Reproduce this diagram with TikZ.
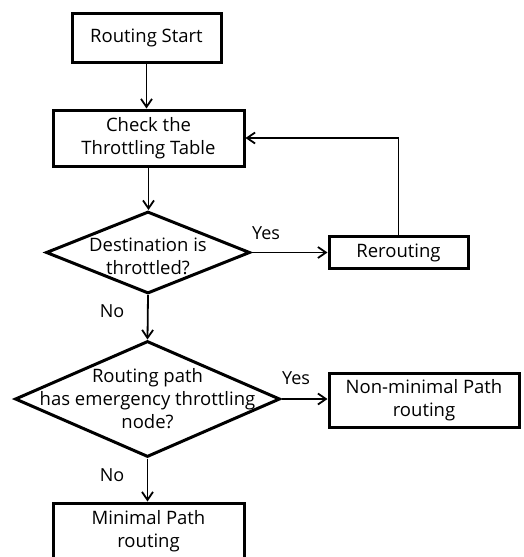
\documentclass[tikz,border=0pt]{standalone}
\usepackage{fontspec}
\setmainfont{Open Sans}
\usetikzlibrary{shapes.geometric,arrows.meta}
\tikzset{
  box/.style={draw=black, line width=3pt, rectangle, inner sep=0pt, align=center},
  dia/.style={draw=black, line width=3pt, diamond, inner sep=0pt},
  txt/.style={align=center, inner sep=0pt, font=\fontsize{18.5}{23}\selectfont},
  lbl/.style={inner sep=0pt, font=\fontsize{18}{20}\selectfont},
  arr/.style={line width=1.8pt, -{Straight Barb[length=8pt,width=11pt,line width=1.8pt]}},
  ln/.style={line width=1.8pt}
}
\begin{document}
\begin{tikzpicture}[x=1pt,y=-1pt]
\useasboundingbox (0,0) rectangle (524,557);
\node[box, minimum width=149pt, minimum height=49pt] (start) at (146.5,37.5) {};
\node[txt] at (start) {Routing Start};
\node[box, minimum width=191pt, minimum height=56pt] (chk) at (148.5,138) {};
\node[txt] at (chk) {Check the\\Throttling Table};
\node[dia, minimum width=204pt, minimum height=82pt] (d1) at (148,252.5) {};
\node[txt] at (148,256) {Destination is\\throttled?};
\node[box, minimum width=139pt, minimum height=32pt] (rr) at (398.5,252.5) {};
\node[txt] at (rr) {Rerouting};
\node[dia, minimum width=265pt, minimum height=116pt] (d2) at (147.5,399) {};
\node[txt] at (147.5,399) {Routing path\\has emergency throttling\\node?};
\node[box, minimum width=190pt, minimum height=54pt] (nm) at (424,400) {};
\node[txt] at (nm) {Non-minimal Path\\routing};
\node[box, minimum width=191pt, minimum height=56pt] (mp) at (148.5,531) {};
\node[txt] at (mp) {Minimal Path\\routing};
\node[lbl] (y1) at (266,233) {Yes};
\node[lbl] (n1) at (112,311) {No};
\node[lbl] (y2) at (296,378) {Yes};
\node[lbl] (n2) at (112,475) {No};
\draw[arr] (start) -- (start.south |- chk.north);
\draw[arr] (chk) -- (chk.south |- d1.north);
\draw[arr] (d1.east) -- (d1.east -| rr.west);
\draw[arr] (rr.north) |- (chk.east);
\draw[arr] (d1.south) -- (d2.north);
\draw[arr] (d2.east) -- (d2.east -| nm.west);
\draw[arr] (d2.south) -- (d2.south |- mp.north);
\end{tikzpicture}
\end{document}
